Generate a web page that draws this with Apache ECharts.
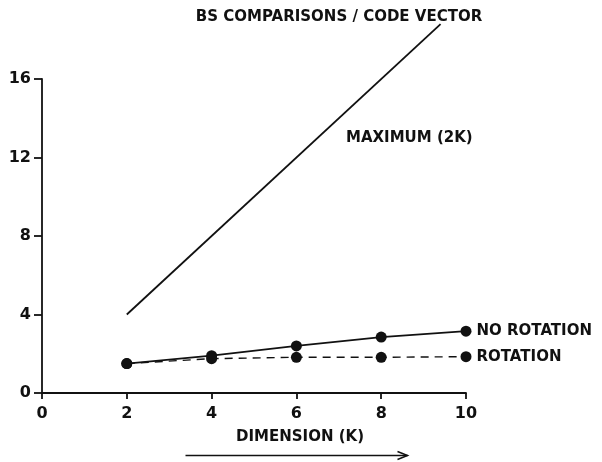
<!DOCTYPE html>
<html>
<head>
<meta charset="utf-8">
<script src="https://cdn.jsdelivr.net/npm/echarts@6/dist/echarts.min.js"></script>
<style>
  html, body { margin: 0; padding: 0; background: #fff; }
  #chart { width: 602px; height: 462px; }
</style>
</head>
<body>
<div id="chart"></div>
<script>
// Dimension K
const dims = [2, 4, 6, 8, 10];
// Comparisons per code vector
const noRotation = [1.5, 1.9, 2.4, 2.85, 3.15];
const rotation = [1.5, 1.75, 1.82, 1.82, 1.85];
// Upper bound 2K, drawn until it leaves the top of the figure
const maxLine = [[2, 4], [9.4, 18.8]];
const yTicks = [0, 4, 8, 12, 16];
const xTicks = [0, 2, 4, 6, 8, 10];

const FONT = '"DejaVu Sans", "Liberation Sans", sans-serif';
const INK = '#111';
const TXT = 15;

const chart = echarts.init(document.getElementById('chart'), null, { renderer: 'canvas' });

function endLabel(text) {
  return {
    show: true, position: 'right', distance: 5,
    formatter: p => (p.dataIndex === dims.length - 1 ? text : ''),
    fontFamily: FONT, fontSize: TXT, fontWeight: 'bold', color: INK
  };
}

chart.setOption({
  animation: false,
  backgroundColor: '#fff',
  title: {
    text: 'BS COMPARISONS / CODE VECTOR',
    left: 334, top: 5, textAlign: 'center',
    textStyle: { fontFamily: FONT, fontSize: TXT, fontWeight: 'bold', color: INK }
  },
  grid: { left: 42, right: 136, top: 79, bottom: 69, containLabel: false },
  xAxis: {
    type: 'value', min: 0, max: 10, interval: 2,
    axisLine: { lineStyle: { color: INK, width: 1.8 } },
    axisTick: { show: true, length: 6, lineStyle: { color: INK, width: 1.8 } },
    axisLabel: {
      fontFamily: FONT, fontSize: 16, fontWeight: 'bold', color: INK, margin: 13,
      formatter: v => (xTicks.includes(v) ? String(v) : '')
    },
    splitLine: { show: false }
  },
  yAxis: {
    type: 'value', min: 0, max: 16, interval: 4,
    axisLine: { lineStyle: { color: INK, width: 1.8 } },
    axisTick: { show: true, length: 8, lineStyle: { color: INK, width: 1.8 } },
    axisLabel: {
      fontFamily: FONT, fontSize: 16, fontWeight: 'bold', color: INK, margin: 11,
      formatter: v => (yTicks.includes(v) ? String(v) : '')
    },
    splitLine: { show: false }
  },
  series: [
    {
      name: 'MAXIMUM (2K)', type: 'line', clip: false,
      data: maxLine, showSymbol: false, symbol: 'none',
      lineStyle: { color: INK, width: 1.8 }
    },
    {
      name: 'NO ROTATION', type: 'line',
      data: dims.map((d, i) => [d, noRotation[i]]),
      symbol: 'circle', symbolSize: 11,
      itemStyle: { color: INK },
      lineStyle: { color: INK, width: 1.8 },
      label: endLabel('NO ROTATION')
    },
    {
      name: 'ROTATION', type: 'line',
      data: dims.map((d, i) => [d, rotation[i]]),
      symbol: 'circle', symbolSize: 11,
      itemStyle: { color: INK },
      lineStyle: { color: INK, width: 1.4, type: [8, 6] },
      label: endLabel('ROTATION')
    }
  ],
  graphic: [
    {
      type: 'text', left: 346, top: 131,
      style: { text: 'MAXIMUM (2K)', font: 'bold ' + TXT + 'px ' + FONT, fill: INK }
    },
    {
      type: 'text', left: 236, top: 430,
      style: { text: 'DIMENSION (K)', font: 'bold ' + TXT + 'px ' + FONT, fill: INK }
    },
    {
      type: 'group', left: 183, top: 449,
      children: [
        { type: 'line', shape: { x1: 0, y1: 5, x2: 222, y2: 5 }, style: { stroke: INK, lineWidth: 1.5 } },
        { type: 'polyline', shape: { points: [[212, 1], [222, 5], [212, 9]] }, style: { stroke: INK, lineWidth: 1.5, fill: null } }
      ]
    }
  ]
});
</script>
</body>
</html>
